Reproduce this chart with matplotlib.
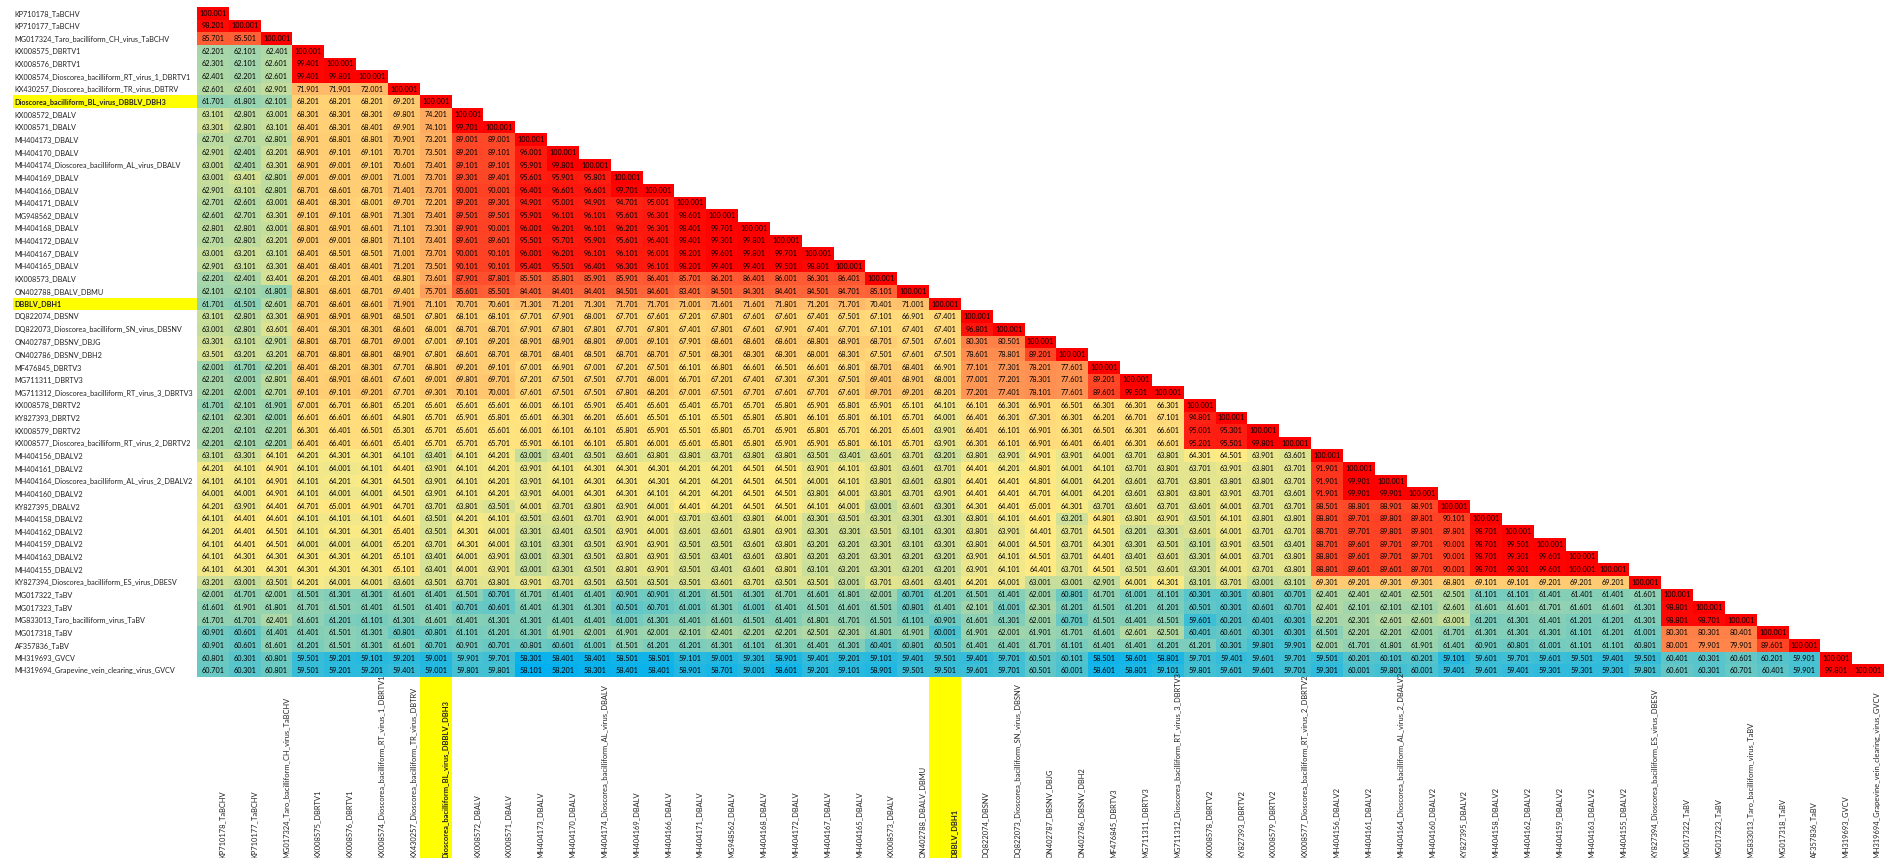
import numpy as np
import matplotlib
matplotlib.use("Agg")
import matplotlib.pyplot as plt
from matplotlib.colors import LinearSegmentedColormap, TwoSlopeNorm
from matplotlib.patches import Rectangle

plt.rcParams['font.family'] = ['Lato', 'DejaVu Sans']

labels = [
    "KP710178_TaBCHV", "KP710177_TaBCHV", "MG017324_Taro_bacilliform_CH_virus_TaBCHV",
    "KX008575_DBRTV1", "KX008576_DBRTV1", "KX008574_Dioscorea_bacilliform_RT_virus_1_DBRTV1",
    "KX430257_Dioscorea_bacilliform_TR_virus_DBTRV", "Dioscorea_bacilliform_BL_virus_DBBLV_DBH3",
    "KX008572_DBALV", "KX008571_DBALV", "MH404173_DBALV", "MH404170_DBALV",
    "MH404174_Dioscorea_bacilliform_AL_virus_DBALV", "MH404169_DBALV", "MH404166_DBALV",
    "MH404171_DBALV", "MG948562_DBALV", "MH404168_DBALV", "MH404172_DBALV", "MH404167_DBALV",
    "MH404165_DBALV", "KX008573_DBALV", "ON402788_DBALV_DBMU", "DBBLV_DBH1", "DQ822074_DBSNV",
    "DQ822073_Dioscorea_bacilliform_SN_virus_DBSNV", "ON402787_DBSNV_DBJG", "ON402786_DBSNV_DBH2",
    "MF476845_DBRTV3", "MG711311_DBRTV3", "MG711312_Dioscorea_bacilliform_RT_virus_3_DBRTV3",
    "KX008578_DBRTV2", "KY827393_DBRTV2", "KX008579_DBRTV2",
    "KX008577_Dioscorea_bacilliform_RT_virus_2_DBRTV2", "MH404156_DBALV2", "MH404161_DBALV2",
    "MH404164_Dioscorea_bacilliform_AL_virus_2_DBALV2", "MH404160_DBALV2", "KY827395_DBALV2",
    "MH404158_DBALV2", "MH404162_DBALV2", "MH404159_DBALV2", "MH404163_DBALV2", "MH404155_DBALV2",
    "KY827394_Dioscorea_bacilliform_ES_virus_DBESV", "MG017322_TaBV", "MG017323_TaBV",
    "MG833013_Taro_bacilliform_virus_TaBV", "MG017318_TaBV", "AF357836_TaBV", "MH319693_GVCV",
    "MH319694_Grapevine_vein_clearing_virus_GVCV",
]
highlight = ["Dioscorea_bacilliform_BL_virus_DBBLV_DBH3", "DBBLV_DBH1"]

r01 = [100.001]
r02 = [98.201, 100.001]
r03 = [85.701, 85.501, 100.001]
r04 = [62.201, 62.101, 62.401, 100.001]
r05 = [62.301, 62.101, 62.601, 99.401, 100.001]
r06 = [62.401, 62.201, 62.601, 99.401, 99.801, 100.001]
r07 = [62.601, 62.601, 62.901, 71.901, 71.901, 72.001, 100.001]
r08 = [61.701, 61.801, 62.101, 68.201, 68.201, 68.201, 69.201, 100.001]
r09 = [63.101, 62.801, 63.001, 68.301, 68.301, 68.301, 69.801, 74.201, 100.001]
r10 = [63.301, 62.801, 63.101, 68.401, 68.301, 68.401, 69.901, 74.101, 99.701, 100.001]
r11 = [62.701, 62.701, 62.801, 68.901, 68.801, 68.801, 70.901, 73.201, 89.001, 89.001, 100.001]
r12 = [62.901, 62.401, 63.201, 68.901, 69.101, 69.101, 70.701, 73.501, 89.201, 89.101, 96.001, 100.001]
r13 = [63.001, 62.401, 63.301, 68.901, 69.001, 69.101, 70.601, 73.401, 89.101, 89.101, 95.901, 99.801, 100.001]
r14 = [63.001, 63.401, 62.801, 69.001, 69.001, 69.001, 71.001, 73.701, 89.301, 89.401, 95.601, 95.901, 95.801, 100.001]
r15 = [62.901, 63.101, 62.801, 68.701, 68.601, 68.701, 71.401, 73.701, 90.001, 90.001, 96.401, 96.601, 96.601, 99.701, 100.001]
r16 = [62.701, 62.601, 63.001, 68.401, 68.301, 68.001, 69.701, 72.201, 89.201, 89.301, 94.901, 95.001, 94.901, 94.701, 95.001, 100.001]
r17 = [62.601, 62.701, 63.301, 69.101, 69.101, 68.901, 71.301, 73.401, 89.501, 89.501, 95.901, 96.101, 96.101, 95.601, 96.301, 98.601, 100.001]
r18 = [62.801, 62.801, 63.001, 68.801, 68.901, 68.601, 71.101, 73.301, 89.901, 90.001, 96.001, 96.201, 96.101, 96.201, 96.301, 98.401, 99.701, 100.001]
r19 = [62.701, 62.801, 63.201, 69.001, 69.001, 68.801, 71.101, 73.401, 89.601, 89.601, 95.501, 95.701, 95.901, 95.601, 96.401, 98.401, 99.301, 99.801, 100.001]
r20 = [63.001, 63.201, 63.101, 68.401, 68.501, 68.501, 71.001, 73.701, 90.001, 90.101, 96.001, 96.201, 96.101, 96.101, 96.001, 98.201, 99.601, 99.801, 99.701, 100.001]
r21 = [62.901, 63.101, 63.301, 68.401, 68.401, 68.401, 71.201, 73.501, 90.101, 90.101, 95.401, 95.501, 96.401, 96.301, 96.101, 98.201, 99.401, 99.401, 99.501, 98.801, 100.001]
r22 = [62.201, 62.401, 63.401, 68.201, 68.201, 68.401, 68.801, 73.601, 87.901, 87.801, 85.501, 85.801, 85.901, 85.901, 86.401, 85.701, 86.201, 86.401, 86.001, 86.301, 86.401, 100.001]
r23 = [62.101, 62.101, 61.801, 68.801, 68.601, 68.701, 69.401, 75.701, 85.601, 85.501, 84.401, 84.401, 84.401, 84.501, 84.601, 83.401, 84.501, 84.301, 84.401, 84.501, 84.701, 85.101, 100.001]
r24 = [61.701, 61.501, 62.601, 68.701, 68.601, 68.601, 71.901, 71.101, 70.701, 70.601, 71.301, 71.201, 71.301, 71.701, 71.701, 71.001, 71.601, 71.601, 71.801, 71.201, 71.701, 70.401, 71.001, 100.001]
r25 = [63.101, 62.801, 63.301, 68.901, 68.901, 68.901, 68.501, 67.801, 68.101, 68.101, 67.701, 67.901, 68.001, 67.701, 67.601, 67.201, 67.801, 67.601, 67.601, 67.401, 67.501, 67.101, 66.901, 67.401, 100.001]
r26 = [63.001, 62.801, 63.601, 68.401, 68.301, 68.301, 68.601, 68.001, 68.701, 68.701, 67.901, 67.801, 67.801, 67.701, 67.801, 67.401, 67.801, 67.601, 67.901, 67.401, 67.701, 67.101, 67.401, 67.401, 96.801, 100.001]
r27 = [63.301, 63.101, 62.901, 68.801, 68.701, 68.701, 69.001, 67.001, 69.101, 69.201, 68.901, 68.901, 68.801, 69.001, 69.101, 67.901, 68.601, 68.601, 68.601, 68.801, 68.901, 68.701, 67.501, 67.601, 80.301, 80.501, 100.001]
r28 = [63.501, 63.201, 63.201, 68.701, 68.801, 68.801, 68.901, 67.801, 68.601, 68.701, 68.701, 68.401, 68.501, 68.701, 68.701, 67.501, 68.301, 68.301, 68.301, 68.001, 68.301, 67.501, 67.601, 67.501, 78.601, 78.801, 89.201, 100.001]
r29 = [62.001, 61.701, 62.201, 68.401, 68.201, 68.301, 67.701, 68.801, 69.201, 69.101, 67.001, 66.901, 67.001, 67.201, 67.501, 66.101, 66.801, 66.601, 66.501, 66.601, 66.801, 68.701, 68.401, 66.901, 77.101, 77.301, 78.201, 77.601, 100.001]
r30 = [62.201, 62.001, 62.801, 68.401, 68.901, 68.601, 67.601, 69.001, 69.801, 69.701, 67.201, 67.501, 67.501, 67.701, 68.001, 66.701, 67.201, 67.401, 67.301, 67.301, 67.501, 69.401, 68.901, 68.001, 77.001, 77.201, 78.301, 77.601, 89.201, 100.001]
r31 = [62.201, 62.001, 62.701, 69.101, 69.101, 69.201, 67.701, 69.301, 70.101, 70.001, 67.601, 67.501, 67.501, 67.801, 68.201, 67.001, 67.501, 67.701, 67.601, 67.701, 67.601, 69.701, 69.201, 68.201, 77.201, 77.401, 78.101, 77.601, 89.601, 99.501, 100.001]
r32 = [61.701, 62.101, 61.901, 67.001, 66.701, 66.801, 65.201, 65.601, 65.601, 65.601, 66.001, 66.101, 65.901, 65.401, 65.601, 65.401, 65.701, 65.701, 65.801, 65.901, 65.801, 65.901, 65.101, 64.101, 66.101, 66.301, 66.901, 66.501, 66.301, 66.301, 66.301, 100.001]
r33 = [62.101, 62.301, 62.001, 66.601, 66.601, 66.601, 64.801, 65.701, 65.901, 65.801, 65.601, 66.301, 66.201, 65.601, 65.501, 65.101, 65.501, 65.801, 65.801, 66.101, 65.801, 66.101, 65.701, 64.001, 66.401, 66.301, 67.301, 66.301, 66.201, 66.701, 67.101, 94.801, 100.001]
r34 = [62.201, 62.101, 62.201, 66.301, 66.401, 66.501, 65.301, 65.701, 65.601, 65.601, 66.001, 66.101, 66.101, 65.801, 65.901, 65.501, 65.801, 65.701, 65.901, 65.801, 65.701, 66.201, 65.601, 63.901, 66.401, 66.101, 66.901, 66.301, 66.501, 66.301, 66.601, 95.001, 95.301, 100.001]
r35 = [62.201, 62.101, 62.201, 66.401, 66.401, 66.601, 65.401, 65.701, 65.701, 65.701, 65.901, 66.101, 66.101, 65.801, 66.001, 65.601, 65.801, 65.801, 65.901, 65.901, 65.801, 66.101, 65.701, 63.901, 66.301, 66.101, 66.901, 66.401, 66.401, 66.301, 66.601, 95.201, 95.501, 99.801, 100.001]
r36 = [63.101, 63.301, 64.101, 64.201, 64.301, 64.301, 64.101, 63.401, 64.101, 64.201, 63.001, 63.401, 63.501, 63.601, 63.801, 63.801, 63.701, 63.801, 63.801, 63.501, 63.401, 63.601, 63.701, 63.201, 63.801, 63.901, 64.901, 63.901, 64.001, 63.701, 63.801, 64.301, 64.501, 63.901, 63.601, 100.001]
r37 = [64.201, 64.101, 64.901, 64.101, 64.001, 64.101, 64.401, 63.901, 64.101, 64.201, 63.901, 64.101, 64.301, 64.301, 64.301, 64.201, 64.201, 64.501, 64.501, 63.901, 64.101, 63.801, 63.601, 63.701, 64.401, 64.201, 64.801, 64.001, 64.101, 63.701, 63.801, 63.701, 63.901, 63.801, 63.701, 91.901, 100.001]
r38 = [64.101, 64.101, 64.901, 64.101, 64.201, 64.301, 64.501, 63.901, 64.101, 64.201, 63.901, 64.101, 64.301, 64.301, 64.301, 64.201, 64.201, 64.501, 64.501, 64.001, 64.101, 63.801, 63.601, 63.801, 64.401, 64.401, 64.801, 64.001, 64.201, 63.601, 63.701, 63.801, 63.801, 63.801, 63.701, 91.901, 99.901, 100.001]
r39 = [64.001, 64.001, 64.901, 64.101, 64.001, 64.001, 64.501, 63.901, 64.101, 64.201, 63.901, 64.001, 64.301, 64.301, 64.101, 64.201, 64.201, 64.501, 64.501, 63.801, 64.001, 63.801, 63.701, 63.901, 64.401, 64.401, 64.701, 64.001, 64.201, 63.601, 63.801, 63.801, 63.901, 63.701, 63.601, 91.901, 99.901, 99.901, 100.001]
r40 = [64.201, 63.901, 64.401, 64.701, 65.001, 64.901, 64.701, 63.701, 63.801, 63.501, 64.001, 63.701, 63.801, 63.901, 64.001, 64.401, 64.201, 64.501, 64.501, 64.101, 64.001, 63.001, 63.601, 63.301, 64.301, 64.401, 65.001, 64.301, 63.701, 63.601, 63.701, 63.601, 64.001, 63.701, 63.701, 88.501, 88.801, 88.901, 88.901, 100.001]
r41 = [64.101, 64.401, 64.601, 64.101, 64.101, 64.101, 64.601, 63.501, 64.201, 64.101, 63.501, 63.601, 63.701, 63.901, 64.001, 63.701, 63.601, 63.801, 64.001, 63.301, 63.501, 63.301, 63.301, 63.301, 63.801, 64.101, 64.601, 63.201, 64.801, 63.801, 63.901, 63.501, 64.101, 63.801, 63.801, 88.801, 89.701, 89.801, 89.801, 90.101, 100.001]
r42 = [64.201, 64.401, 64.501, 64.101, 64.301, 64.301, 65.401, 63.501, 64.301, 64.001, 63.301, 63.401, 63.501, 63.901, 64.001, 63.601, 63.601, 63.801, 63.901, 63.301, 63.301, 63.501, 63.101, 63.301, 63.801, 63.901, 64.401, 63.701, 64.501, 63.201, 63.301, 63.601, 64.001, 63.701, 63.701, 88.701, 89.701, 89.801, 89.801, 89.801, 98.701, 100.001]
r43 = [64.101, 64.401, 64.501, 64.001, 64.001, 64.001, 65.201, 63.701, 64.301, 64.001, 63.101, 63.301, 63.501, 63.901, 63.901, 63.501, 63.501, 63.601, 63.801, 63.201, 63.201, 63.301, 63.101, 63.301, 63.801, 64.001, 64.501, 63.701, 64.301, 63.301, 63.501, 63.101, 63.901, 63.501, 63.401, 88.701, 89.601, 89.701, 89.701, 90.001, 98.701, 99.501, 100.001]
r44 = [64.101, 64.301, 64.301, 64.301, 64.301, 64.201, 65.101, 63.401, 64.001, 63.901, 63.001, 63.301, 63.501, 63.801, 63.901, 63.501, 63.401, 63.601, 63.801, 63.201, 63.201, 63.301, 63.201, 63.201, 63.901, 64.101, 64.501, 63.701, 64.401, 63.401, 63.601, 63.301, 64.001, 63.701, 63.801, 88.801, 89.601, 89.701, 89.701, 90.001, 98.701, 99.301, 99.601, 100.001]
r45 = [64.101, 64.301, 64.301, 64.301, 64.301, 64.301, 65.101, 63.401, 64.001, 63.901, 63.001, 63.301, 63.501, 63.801, 63.901, 63.501, 63.401, 63.601, 63.801, 63.101, 63.201, 63.301, 63.201, 63.201, 63.901, 64.101, 64.401, 63.701, 64.501, 63.501, 63.601, 63.301, 64.001, 63.701, 63.801, 88.801, 89.601, 89.601, 89.701, 90.001, 98.701, 99.301, 99.601, 100.001, 100.001]
r46 = [63.201, 63.001, 63.501, 64.201, 64.001, 64.001, 63.601, 63.501, 63.701, 63.801, 63.901, 63.701, 63.501, 63.501, 63.501, 63.501, 63.601, 63.701, 63.501, 63.501, 63.001, 63.701, 63.601, 63.401, 64.201, 64.001, 63.001, 63.001, 62.901, 64.001, 64.301, 63.101, 63.701, 63.001, 63.101, 69.301, 69.201, 69.301, 69.301, 68.801, 69.101, 69.101, 69.201, 69.201, 69.201, 100.001]
r47 = [62.001, 61.701, 62.001, 61.501, 61.301, 61.301, 61.601, 61.401, 61.501, 60.701, 61.701, 61.401, 61.401, 60.901, 60.901, 61.201, 61.501, 61.301, 61.701, 61.601, 61.801, 62.001, 60.701, 61.201, 61.501, 61.401, 62.001, 60.801, 61.701, 61.001, 61.101, 60.301, 60.301, 60.801, 60.701, 62.401, 62.401, 62.401, 62.501, 62.501, 61.101, 61.101, 61.401, 61.401, 61.401, 61.601, 100.001]
r48 = [61.601, 61.901, 61.801, 61.701, 61.501, 61.401, 61.501, 61.401, 60.701, 60.601, 61.401, 61.301, 61.301, 60.501, 60.701, 61.001, 61.301, 61.001, 61.401, 61.501, 61.601, 61.501, 60.801, 61.401, 62.101, 61.001, 62.301, 61.201, 61.501, 61.201, 61.201, 60.501, 60.301, 60.601, 60.701, 62.401, 62.101, 62.101, 62.101, 62.601, 61.601, 61.601, 61.701, 61.601, 61.601, 61.301, 98.801, 100.001]
r49 = [61.701, 61.701, 62.401, 61.601, 61.201, 61.101, 61.301, 61.601, 61.401, 61.301, 61.301, 61.401, 61.401, 61.001, 61.301, 61.401, 61.601, 61.501, 61.401, 61.801, 61.701, 61.501, 61.101, 60.901, 61.601, 61.301, 62.001, 60.701, 61.501, 61.401, 61.501, 59.601, 60.201, 60.401, 60.301, 62.201, 62.301, 62.601, 62.601, 63.001, 61.201, 61.301, 61.401, 61.201, 61.201, 61.301, 98.801, 98.701, 100.001]
r50 = [60.901, 60.601, 61.401, 61.401, 61.501, 61.301, 60.801, 60.801, 61.101, 61.201, 61.301, 61.901, 62.001, 61.901, 62.001, 62.101, 62.401, 62.201, 62.201, 62.501, 62.301, 61.801, 61.901, 60.001, 61.901, 62.001, 61.901, 61.701, 61.601, 62.601, 62.501, 60.401, 60.601, 60.301, 60.301, 61.501, 62.201, 62.201, 62.001, 61.701, 61.301, 61.301, 61.301, 61.101, 61.201, 61.001, 80.301, 80.301, 80.401, 100.001]
r51 = [60.901, 60.601, 61.601, 61.201, 61.501, 61.301, 61.601, 60.701, 60.901, 60.701, 60.801, 60.601, 61.001, 61.501, 61.201, 61.201, 61.301, 61.101, 61.301, 61.401, 61.301, 60.401, 60.801, 60.501, 61.401, 61.401, 61.701, 61.101, 61.401, 61.401, 61.201, 61.201, 60.301, 59.801, 59.901, 62.001, 61.701, 61.801, 61.901, 61.401, 60.901, 60.801, 61.001, 61.101, 61.101, 60.801, 80.001, 79.901, 79.901, 89.601, 100.001]
r52 = [60.801, 60.301, 60.801, 59.501, 59.201, 59.101, 59.201, 59.001, 59.901, 59.701, 58.301, 58.401, 58.401, 58.501, 58.501, 59.101, 59.001, 59.301, 58.901, 59.401, 59.201, 59.101, 59.401, 59.501, 59.401, 59.701, 60.501, 60.101, 58.501, 58.601, 58.801, 59.701, 59.401, 59.601, 59.701, 59.501, 60.201, 60.101, 60.201, 59.101, 59.601, 59.701, 59.601, 59.501, 59.401, 59.501, 60.401, 60.301, 60.601, 60.201, 59.901, 100.001]
r53 = [60.701, 60.301, 60.801, 59.501, 59.201, 59.201, 59.401, 59.001, 59.801, 59.801, 58.101, 58.201, 58.301, 58.401, 58.401, 58.901, 58.701, 59.001, 58.601, 59.201, 59.101, 58.901, 59.501, 59.501, 59.601, 59.701, 60.501, 60.001, 58.601, 58.801, 59.101, 59.801, 59.601, 59.601, 59.701, 59.301, 60.001, 59.801, 60.001, 59.401, 59.601, 59.401, 59.301, 59.301, 59.301, 59.801, 60.601, 60.301, 60.701, 60.401, 59.901, 99.801, 100.001]

rows = [r01, r02, r03, r04, r05, r06, r07, r08, r09, r10, r11, r12, r13, r14, r15, r16, r17, r18,
        r19, r20, r21, r22, r23, r24, r25, r26, r27, r28, r29, r30, r31, r32, r33, r34, r35, r36,
        r37, r38, r39, r40, r41, r42, r43, r44, r45, r46, r47, r48, r49, r50, r51, r52, r53]

n = len(rows)
mat = np.full((n, n), np.nan)
for i, r in enumerate(rows):
    mat[i, :len(r)] = r
mat = np.ma.masked_invalid(mat)

cmap = LinearSegmentedColormap.from_list("excel", ["#00B0F0", "#FFEB84", "#FF0000"])
norm = TwoSlopeNorm(vmin=58.101, vcenter=64.4, vmax=100.001)

fig = plt.figure(figsize=(18.84, 8.58), dpi=100)
ax = fig.add_axes([197 / 1884, 1 - 677 / 858, 1687 / 1884, 670 / 858])
ax.pcolormesh(np.arange(n + 1), np.arange(n + 1), mat, cmap=cmap, norm=norm)
ax.set_xlim(0, n)
ax.set_ylim(n, 0)
ax.axis("off")

cell_w = 1687 / n
cell_h = 670 / n
label_x = (14.6 - 197) / cell_w
band_x = (13 - 197) / cell_w
fig_bottom = (858 - 7) / cell_h

for i, name in enumerate(labels):
    bold = name in highlight
    w = "bold" if bold else "normal"
    if bold:
        ax.add_patch(Rectangle((band_x, i), -band_x, 1, color="#FFFF00", lw=0, clip_on=False))
        ax.add_patch(Rectangle((i, n), 1, fig_bottom - n, color="#FFFF00", lw=0, clip_on=False))
    ax.text(label_x, i + 0.5, name, ha="left", va="center", fontsize=5.25, color="#222222",
            fontweight=w, clip_on=False)
    ax.text(i + 0.79, fig_bottom, name, ha="center", va="bottom", rotation=90, fontsize=5.4,
            color="#222222", fontweight=w, clip_on=False)

for i, r in enumerate(rows):
    for j, v in enumerate(r):
        ax.text(j + 0.5, i + 0.5, "%.3f" % v, ha="center", va="center", fontsize=5.2, color="black")

fig.savefig("out.png", dpi=100)
